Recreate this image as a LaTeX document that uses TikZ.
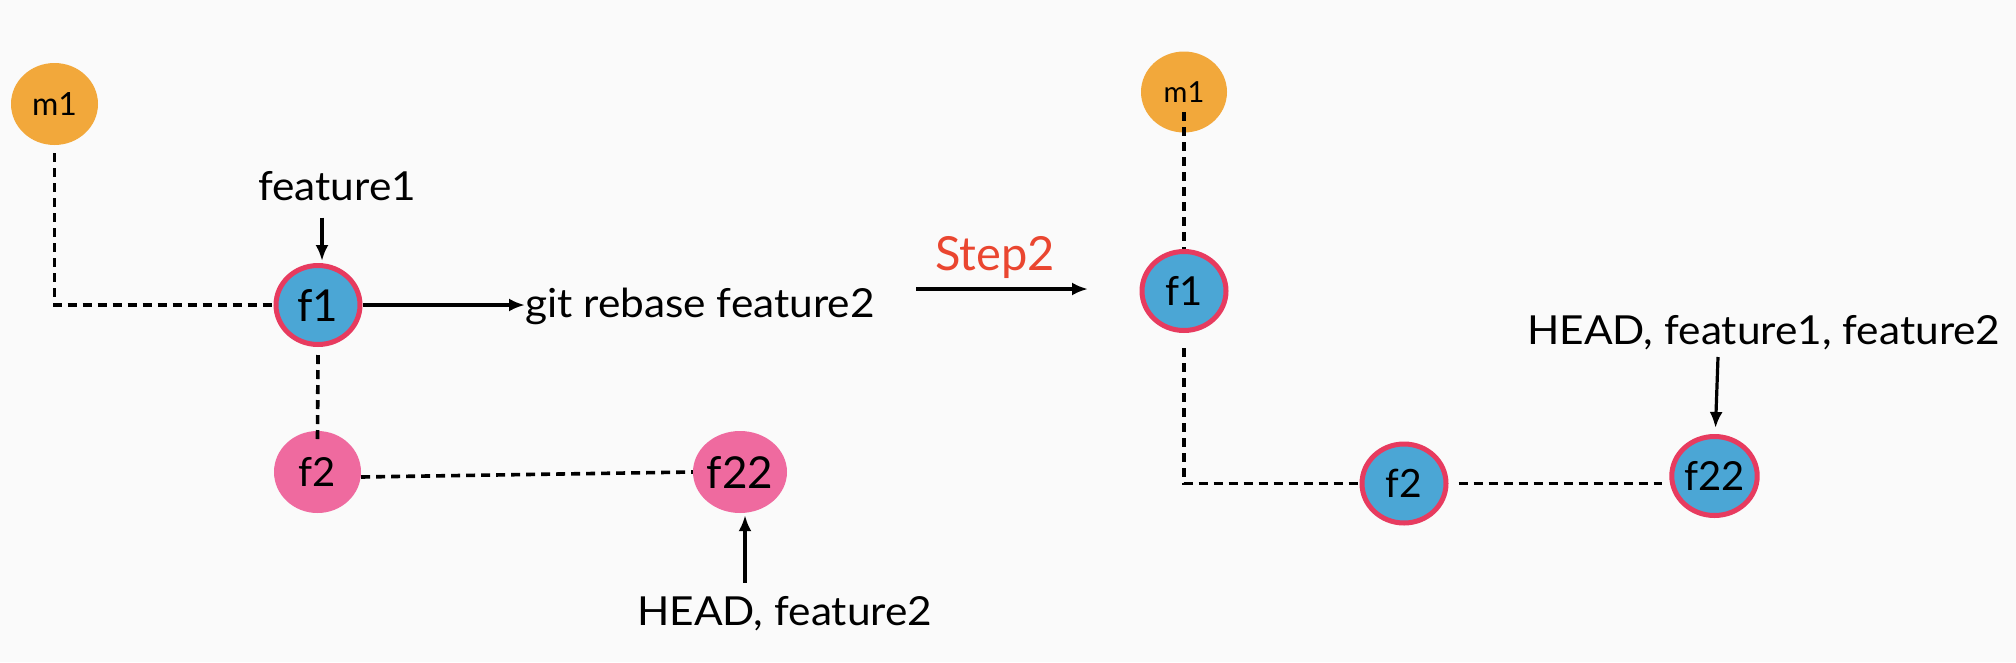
\documentclass[tikz,border=0pt]{standalone}
\usepackage{fontspec}
\setmainfont{Lato}
\newfontfamily\labfont[FakeStretch=1.06]{Lato}
\usetikzlibrary{shapes.geometric,arrows.meta}
\definecolor{bg}{RGB}{250,250,250}
\definecolor{morange}{RGB}{242,168,59}
\definecolor{fblue}{RGB}{75,166,213}
\definecolor{fred}{RGB}{231,59,95}
\definecolor{fpink}{RGB}{239,106,159}
\definecolor{stepred}{RGB}{234,70,48}
\begin{document}
\begin{tikzpicture}[x=1pt,y=-1pt,
  commit/.style={ellipse, inner sep=0pt, minimum width=87pt, minimum height=82pt},
  mcommit/.style={commit, fill=morange},
  pcommit/.style={commit, fill=fpink},
  bcommit/.style={commit, fill=fblue, draw=fred, line width=5pt, minimum width=84pt, minimum height=79pt},
  lab/.style={inner sep=0pt, font=\labfont\fontsize{40}{48}\selectfont},
  dline/.style={line width=3.6pt, dash pattern=on 9pt off 6pt},
  arr/.style={line width=3.2pt, -{Latex[length=16pt,width=13pt]}},
]
\fill[bg] (0,0) rectangle (2016,662);
\useasboundingbox (0,0) rectangle (2016,662);

% left: before
\node[mcommit, font=\fontsize{32}{38}\selectfont] (m1) at (54.5,104) {m1};
\node[bcommit, font=\fontsize{44}{52}\selectfont] (f1) at (318,305) {f1};
\node[pcommit, font=\fontsize{40}{48}\selectfont] (f2) at (317.5,472) {f2};
\node[pcommit, font=\fontsize{44}{52}\selectfont] (f22) at (740,472) {f22};

\node[lab, anchor=base west] (feat1) at (258,200) {feature1};
\node[lab, anchor=base west] (git) at (525,317) {git rebase feature2};
\node[lab, anchor=base west] (head2) at (637,625) {HEAD, feature2};

\draw[dline] ([yshift=-8pt]m1.south) |- (f1.west);
\draw[dline] ([yshift=-8pt]f1.south) -- ([yshift=-9pt]f2.north);
\draw[dline] ([yshift=-5pt]f2.east) -- (f22.west);
\draw[arr] ([xshift=4pt,yshift=-17pt]feat1.south -| f1.north) -- ([xshift=4pt,yshift=2pt]f1.north);
\draw[arr] (f1.east) -- (f1.east -| git.west);
\draw[arr] ([xshift=5pt,yshift=13pt]head2.north -| f22.south) -- ([xshift=5pt,yshift=-2pt]f22.south);

% step arrow
\coordinate (s2a) at (916,289);
\coordinate (s2b) at (1088,289);
\draw[arr] (s2a) -- (s2b);
\node[inner sep=0pt, text=stepred, font=\fontsize{47}{56}\selectfont, anchor=base west] (step) at (935,270) {Step2};

% right: after
\node[mcommit, minimum width=86pt, minimum height=81pt, font=\fontsize{29}{35}\selectfont] (rm1) at (1184,92) {m1};
\node[bcommit, font=\fontsize{40}{48}\selectfont] (rf1) at (1184,291) {f1};
\node[bcommit, font=\fontsize{39}{46}\selectfont] (rf2) at (1404,483.5) {f2};
\node[bcommit, font=\fontsize{40}{48}\selectfont] (rf22) at (1714.5,476) {f22};
\node[lab, anchor=base west] (head3) at (1527,344) {HEAD, feature1, feature2};

\draw[dline] ([yshift=-20pt]rm1.center) -- (rf1.north);
\draw[dline] ([yshift=-15pt]rf1.south) |- (rf2.west);
\draw[dline] ([xshift=10pt]rf2.east) -- ([xshift=-7pt]rf2.east -| rf22.west);
\coordinate (h3) at (1718,357);
\draw[arr] (h3) -- ([xshift=1pt,yshift=6pt]rf22.north);
\end{tikzpicture}
\end{document}
